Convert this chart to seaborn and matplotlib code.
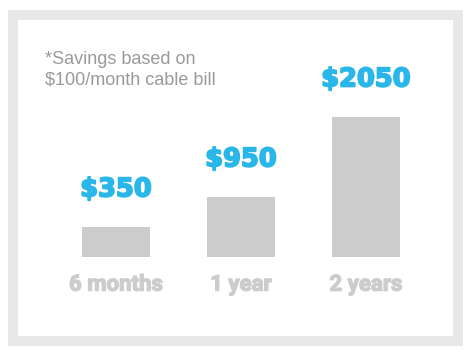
import matplotlib
matplotlib.use("Agg")
import matplotlib.pyplot as plt
from matplotlib.patches import Rectangle
import matplotlib.patheffects as pe
import seaborn as sns
import pandas as pd

# Data
periods = ["6 months", "1 year", "2 years"]
savings = [350, 950, 2050]
bar_heights = [30, 60, 140]          # bar heights as drawn (relative units)
footnote_lines = ["*Savings based on", "$100/month cable bill"]

W, H = 470, 355
BLUE = "#29b6e8"
BAR = "#cccccc"
FRAME = "#e8e8e8"

sns.set_theme(style="white")
fig = plt.figure(figsize=(W / 100, H / 100), dpi=100)
fig.patch.set_facecolor("white")

def fx(px):
    return px / W

def fy(py):
    return 1 - py / H

# frame
fig.patches.append(Rectangle((fx(8), fy(345.5)), fx(463) - fx(8), fy(10) - fy(345.5),
                             transform=fig.transFigure, facecolor=FRAME, edgecolor="none", zorder=-2))
fig.patches.append(Rectangle((fx(18), fy(336)), fx(453) - fx(18), fy(20) - fy(336),
                             transform=fig.transFigure, facecolor="white", edgecolor="none", zorder=-1))

# axes: x from -0.5..2.5 mapped to 53.5..428.5 px, y baseline at 257 px
ax_h_px = 217
ax = fig.add_axes([fx(53.5), fy(257), fx(428.5) - fx(53.5), ax_h_px / H])
ax.set_zorder(2)
ax.patch.set_alpha(0)

df = pd.DataFrame({"period": periods, "height": bar_heights, "savings": savings})
sns.barplot(data=df, x="period", y="height", color=BAR, saturation=1,
            width=0.544, ax=ax, order=periods)
ax.set_xlim(-0.5, 2.5)
ax.set_ylim(0, ax_h_px)

for patch, v in zip(ax.patches, savings):
    patch.set_facecolor(BAR)
    patch.set_edgecolor("none")
    cx = patch.get_x() + patch.get_width() / 2
    ax.annotate(f"${v}", xy=(cx, patch.get_height()), xytext=(0, 22),
                textcoords="offset points", ha="center", va="baseline",
                fontsize=18.5, fontweight="bold", color=BLUE, family="DejaVu Sans",
                path_effects=[pe.withStroke(linewidth=1.3, foreground=BLUE)])

ax.set_xlabel("")
ax.set_ylabel("")
ax.set_yticks([])
for s in ax.spines.values():
    s.set_visible(False)
ax.tick_params(axis="x", length=0, pad=12)
for lbl in ax.get_xticklabels():
    lbl.set_fontfamily(["Roboto", "DejaVu Sans"])
    lbl.set_fontweight("bold")
    lbl.set_fontsize(16)
    lbl.set_color("#cccccc")
    lbl.set_path_effects([pe.withStroke(linewidth=0.9, foreground="#cccccc")])

fig.text(fx(45), fy(64), footnote_lines[0], family=["Liberation Sans", "DejaVu Sans"],
         fontsize=13, color="#9a9a9a", ha="left", va="baseline", zorder=3)
fig.text(fx(45), fy(84), footnote_lines[1], family=["Liberation Sans", "DejaVu Sans"],
         fontsize=13, color="#9a9a9a", ha="left", va="baseline", zorder=3)

fig.savefig("out.png", dpi=100)
